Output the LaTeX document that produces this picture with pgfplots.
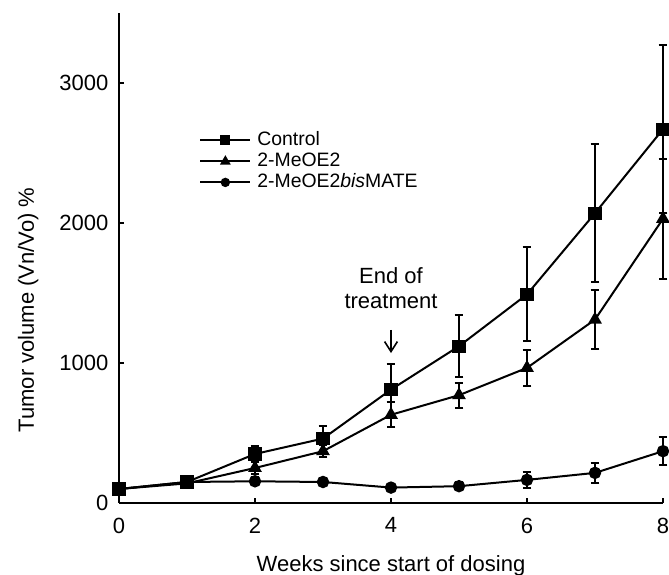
\documentclass[border=0pt]{standalone}
\usepackage{fontspec}
\setmainfont{Liberation Sans}
\usepackage{pgfplots}
\usepackage{pgfplotstable}
\pgfplotsset{compat=1.18}
\usetikzlibrary{arrows.meta}

% week, mean volume, error
\pgfplotstableread{
w v e
0 100 0
1 150 20
2 350 55
3 460 90
4 810 185
5 1120 220
6 1490 335
7 2070 495
8 2670 600
}\control
\pgfplotstableread{
w v e
0 100 0
1 140 20
2 250 40
3 370 45
4 630 90
5 770 90
6 965 130
7 1310 210
8 2030 430
}\meoe
\pgfplotstableread{
w v e
0 100 0
1 150 20
2 155 30
3 150 25
4 110 15
5 120 30
6 165 55
7 215 70
8 370 100
}\bismate

\begin{document}
\begin{tikzpicture}
\begin{axis}[
    scale only axis,
    width=272pt, height=245pt,
    xmin=0, xmax=8, ymin=0, ymax=3500,
    clip=false,
    axis x line=bottom, axis y line=left,
    axis line style={-, line width=0.9pt},
    xtick={0,2,4,6,8}, ytick={0,1000,2000,3000},
    tick align=inside, major tick length=2.5pt,
    tick style={line width=0.8pt, black},
    /pgf/number format/assume math mode=true,
    /pgf/number format/1000 sep={},
    ticklabel style={font=\fontsize{11}{13}\selectfont},
    xticklabel style={yshift=-3.8pt},
    yticklabel style={xshift=-1.8pt},
    xlabel={Weeks since start of dosing},
    ylabel={Tumor volume (Vn/Vo) \%},
    label style={font=\fontsize{11}{13}\selectfont},
    xlabel style={at={(axis description cs:0.5,-0.139)}, anchor=base},
    ylabel style={at={(axis description cs:-0.167,0.394)}, anchor=center},
    legend style={draw=none, fill=none, at={(axis description cs:0.147,0.7622)},
        anchor=north west, inner sep=0pt, row sep=0pt, column sep=2.5pt,
        font=\fontsize{9.7}{11}\selectfont,
        nodes={inner sep=0.5pt, text height=7.5pt, text depth=2pt}},
    legend cell align=left,
    legend image code/.code={\draw[mark repeat=2, mark phase=2, mark options={scale=0.7}]
        plot coordinates {(0pt,0pt) (12.5pt,0pt) (25pt,0pt)};},
    every axis plot/.append style={black, line width=1pt},
    error bars/error bar style={line width=0.9pt},
    error bars/error mark=|,
    error bars/error mark options={line width=1pt, mark size=2.2pt},
]
\addplot[mark=square*, mark size=2.8pt, error bars/.cd, y dir=both, y explicit]
    table[x=w, y=v, y error=e] {\control};
\addlegendentry{Control}
\addplot[mark=triangle*, mark size=3pt, error bars/.cd, y dir=both, y explicit]
    table[x=w, y=v, y error=e] {\meoe};
\addlegendentry{2-MeOE2}
\addplot[mark=*, mark size=2.6pt, error bars/.cd, y dir=both, y explicit]
    table[x=w, y=v, y error=e] {\bismate};
\addlegendentry{2-MeOE2\textit{bis}MATE}

\node[font=\fontsize{11}{13}\selectfont, anchor=base] at (axis cs:4,1571) {End of};
\node[font=\fontsize{11}{13}\selectfont, anchor=base] at (axis cs:4,1386) {treatment};
\draw[line width=0.8pt, -{Straight Barb[length=5pt, width=6.4pt]}]
    (axis cs:4,1236) -- (axis cs:4,1071);

\coordinate (bl) at (rel axis cs:0,0);
\coordinate (tr) at (rel axis cs:1,1);
\end{axis}
\pgfresetboundingbox
\useasboundingbox ([xshift=-59.5pt, yshift=-36pt]bl) rectangle ([xshift=3pt, yshift=6.5pt]tr);
\end{tikzpicture}
\end{document}
